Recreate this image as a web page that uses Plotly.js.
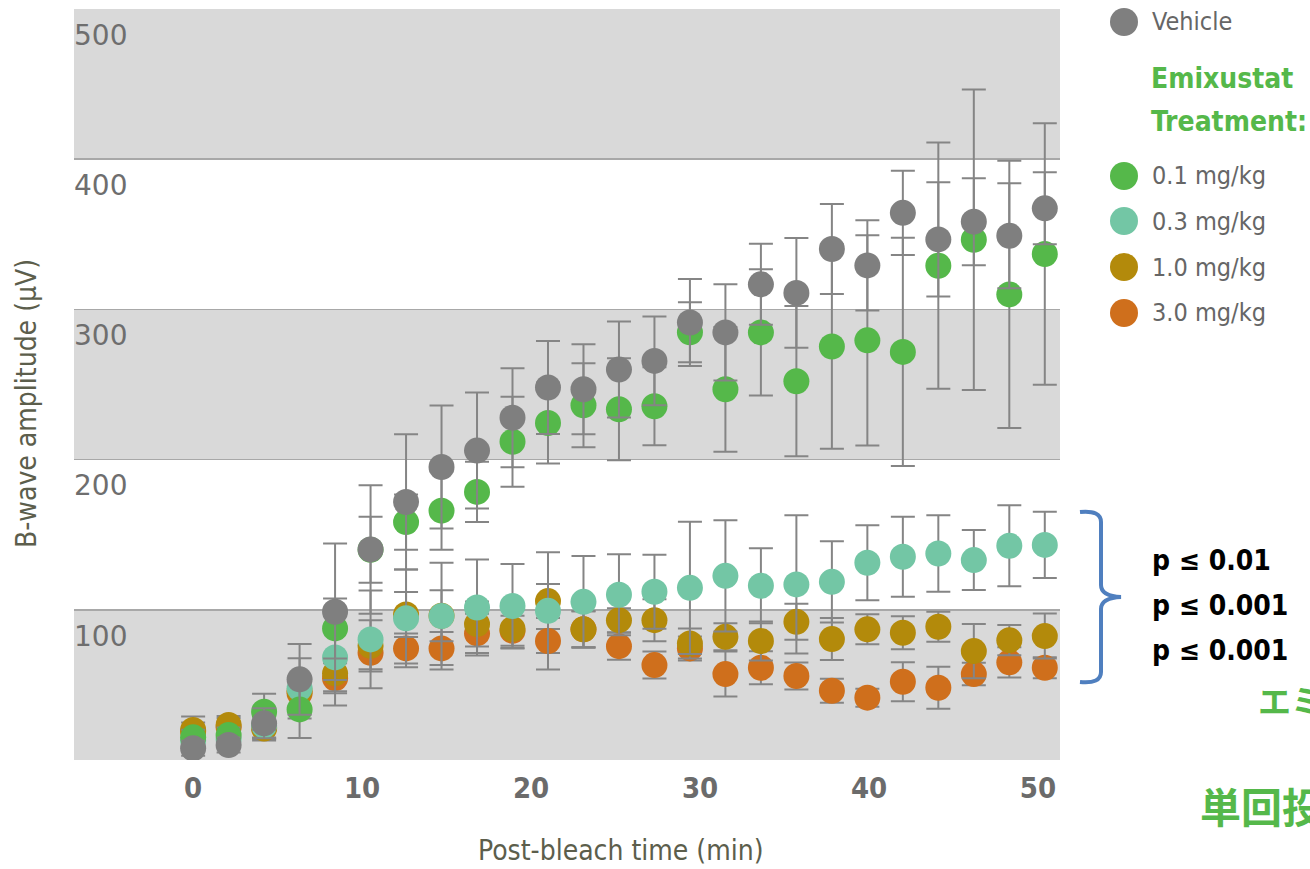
<!DOCTYPE html>
<html>
<head>
<meta charset="utf-8">
<script src="https://cdn.plot.ly/plotly-3.0.1.min.js"></script>
<style>
  html, body { margin: 0; padding: 0; background: #ffffff; }
  #chart { width: 1310px; height: 869px; }
</style>
</head>
<body>
<div id="chart"></div>
<script>
// ---- Data ----
const timeMin = [0, 2.1, 4.2, 6.3, 8.4, 10.5, 12.6, 14.7, 16.8, 18.9, 21, 23.1, 25.2, 27.3, 29.4, 31.5, 33.6, 35.7, 37.8, 39.9, 42, 44.1, 46.2, 48.3, 50.4];

const vehicle    = [7.8, 10, 24.4, 53.7, 98.7, 140.2, 171.8, 195.1, 206, 227.9, 248, 246.8, 260, 265.7, 291.3, 284.7, 316.7, 311, 340.2, 329.3, 364.3, 346.6, 358.4, 349, 367.3];
const vehicleErr = [5, 5, 10, 23.5, 45.5, 42.8, 45, 41, 38.6, 33, 31, 30, 32, 29.5, 29, 32, 27, 36.5, 30, 30, 28, 38, 29, 35, 24];

const dose01    = [15.1, 16.6, 32.1, 33.7, 87.6, 140, 158.4, 166, 178.5, 211.9, 224.4, 236.2, 233.5, 235.5, 284.8, 246.8, 284.7, 252.2, 275.3, 279.4, 271.7, 329.1, 346.4, 310, 336.9];
const dose01Err = [5, 5, 12, 19, 20, 22, 18.4, 26, 20, 30, 27, 28, 34, 26, 20, 41.5, 42, 50, 68, 70, 76, 82, 100, 89, 87];

const dose03    = [13, 14, 23, 47.7, 68.3, 80.3, 94.3, 95.8, 101.5, 102.5, 99.3, 105.3, 110, 112, 114.6, 122.6, 116, 116.9, 118.6, 131.3, 135.3, 137.5, 133.1, 142.6, 143.2];
const dose03Err = [4, 4, 8, 20, 32, 32.6, 32.6, 35.5, 32, 28, 39, 30.6, 27, 24.6, 44, 37, 25, 46, 27, 25, 26.6, 25.5, 20, 27, 22];

const dose10    = [20, 23.3, 21, 46, 57.7, 76, 96.9, 96, 90.5, 87.2, 105.8, 87, 93.1, 93.1, 77.6, 82, 79.2, 92, 80.5, 87, 84.7, 88.7, 72.5, 79.8, 82.5];
const dose10Err = [9, 6, 8, 10, 12, 17, 15, 17, 15, 13, 11.3, 12, 8, 14, 10, 9, 13, 12, 14, 10, 11, 10, 18, 10, 15];

const dose30    = [19, 22, 22, 44.4, 54.4, 71.4, 74.3, 74.3, 84.3, 86, 79.2, 87, 75.8, 63.2, 74.3, 57.2, 61.4, 55.9, 46.1, 41.5, 52.1, 48.1, 57.2, 65, 61.4];
const dose30Err = [6, 6, 8, 10, 10, 11, 10, 11, 13, 10, 8, 12, 9, 9, 8, 15, 11, 9, 8, 6, 13, 14, 7.5, 10, 7];

const xTickVals = [0, 10, 20, 30, 40, 50];
const yTickVals = [0, 100, 200, 300, 400, 500];
const yTickText = ['', '100', '200', '300', '400', '500'];

const seriesNames  = ['Vehicle', '0.1 mg/kg', '0.3 mg/kg', '1.0 mg/kg', '3.0 mg/kg'];
const seriesColors = ['#7f7f7f', '#55b84a', '#73c6a5', '#b38a0b', '#cf6f1c'];

const legendHeading = ['Emixustat', 'Treatment:'];
const pLabels = ['p \u2264 0.01', 'p \u2264 0.001', 'p \u2264 0.001'];
const jpLine1 = 'エミクススタト';
const jpLine2 = '単回投与';

// ---- Styling ----
const NARROW = "'Liberation Sans Narrow', 'Arial Narrow', 'DejaVu Sans Condensed', sans-serif";
const ERR_COLOR = '#858585';

function mk(name, y, err, color) {
  return {
    type: 'scatter', mode: 'markers', name: name,
    x: timeMin, y: y,
    marker: { size: 26, color: color, line: { width: 0 } },
    error_y: { type: 'data', array: err, visible: true, color: ERR_COLOR, thickness: 2, width: 12 },
    showlegend: false, hoverinfo: 'x+y'
  };
}

// bottom-most first, vehicle on top
const traces = [
  mk(seriesNames[4], dose30, dose30Err, seriesColors[4]),
  mk(seriesNames[3], dose10, dose10Err, seriesColors[3]),
  mk(seriesNames[2], dose03, dose03Err, seriesColors[2]),
  mk(seriesNames[1], dose01, dose01Err, seriesColors[1]),
  mk(seriesNames[0], vehicle, vehicleErr, seriesColors[0])
];

// Plot frame in pixels (for placing decorations in paper coordinates)
const L = 74, T = 9, W = 986, H = 751;
const px = v => (v - L) / W;
const py = v => (T + H - v) / H;

const shapes = [];
// gray bands
[[0, 100], [200, 300], [400, 500]].forEach(b => {
  shapes.push({ type: 'rect', xref: 'paper', yref: 'y', x0: 0, x1: 1, y0: b[0], y1: b[1],
    fillcolor: '#d9d9d9', line: { width: 0 }, layer: 'below' });
});

// custom legend markers
const legendY = [22, 176, 221, 267, 313];
legendY.forEach((yy, i) => {
  shapes.push({ type: 'circle', xref: 'paper', yref: 'paper', xsizemode: 'pixel', ysizemode: 'pixel',
    xanchor: px(1124), yanchor: py(yy), x0: -14, x1: 14, y0: -14, y1: 14,
    fillcolor: seriesColors[i], line: { width: 0 } });
});

// curly bracket
const bx0 = px(1080), bx1 = px(1101), bx2 = px(1121);
const bracketPath = `M ${bx0} ${py(512)} Q ${bx1} ${py(510)} ${bx1} ${py(522)} L ${bx1} ${py(585)} Q ${bx1} ${py(596)} ${bx2} ${py(597)} Q ${bx1} ${py(598)} ${bx1} ${py(609)} L ${bx1} ${py(672)} Q ${bx1} ${py(684)} ${bx0} ${py(682)}`;
shapes.push({ type: 'path', xref: 'paper', yref: 'paper', path: bracketPath,
  line: { color: '#4f7fbf', width: 4 }, fillcolor: 'rgba(0,0,0,0)' });

const annotations = [];
const legendText = { family: NARROW, size: 25, color: '#666666' };
annotations.push({ xref: 'paper', yref: 'paper', x: px(1150), y: py(22), xanchor: 'left', yanchor: 'middle',
  text: seriesNames[0], showarrow: false, font: legendText });
[78, 122].forEach((yy, i) => {
  annotations.push({ xref: 'paper', yref: 'paper', x: px(1149), y: py(yy), xanchor: 'left', yanchor: 'middle',
    text: '<b>' + legendHeading[i] + '</b>', showarrow: false,
    font: { family: NARROW, size: 28, color: '#55b84a' } });
});
[176, 221, 267, 313].forEach((yy, i) => {
  annotations.push({ xref: 'paper', yref: 'paper', x: px(1150), y: py(yy), xanchor: 'left', yanchor: 'middle',
    text: seriesNames[i + 1], showarrow: false, font: legendText });
});
[560, 605, 650].forEach((yy, i) => {
  annotations.push({ xref: 'paper', yref: 'paper', x: px(1150), y: py(yy), xanchor: 'left', yanchor: 'middle',
    text: '<b>' + pLabels[i] + '</b>', showarrow: false,
    font: { family: NARROW, size: 28, color: '#000000' } });
});
annotations.push({ xref: 'paper', yref: 'paper', x: px(1256), y: py(700), xanchor: 'left', yanchor: 'middle',
  text: '<b>' + jpLine1 + '</b>', showarrow: false,
  font: { family: "'Noto Sans CJK JP', sans-serif", size: 33, color: '#55b84a' } });
annotations.push({ xref: 'paper', yref: 'paper', x: px(1198), y: py(805), xanchor: 'left', yanchor: 'middle',
  text: '<b>' + jpLine2 + '</b>', showarrow: false,
  font: { family: "'Noto Sans CJK JP', sans-serif", size: 41, color: '#55b84a' } });

// axis titles
annotations.push({ xref: 'paper', yref: 'paper', x: px(621), y: py(850), xanchor: 'center', yanchor: 'middle',
  text: 'Post-bleach time (min)', showarrow: false,
  font: { family: NARROW, size: 28, color: '#5c5e4c' } });
annotations.push({ xref: 'paper', yref: 'paper', x: px(26), y: py(404), xanchor: 'center', yanchor: 'middle',
  text: 'B-wave amplitude (\u03bcV)', textangle: -90, showarrow: false,
  font: { family: NARROW, size: 28, color: '#5c5e4c' } });

const layout = {
  width: 1310, height: 869,
  margin: { l: L, r: 1310 - L - W, t: T, b: 869 - T - H, pad: 0 },
  paper_bgcolor: '#ffffff', plot_bgcolor: '#ffffff',
  showlegend: false,
  xaxis: {
    range: [-7.05, 51.3], tickvals: xTickVals, ticks: '', showgrid: false, zeroline: false,
    showline: false, ticklabelstandoff: 8,
    tickfont: { family: NARROW, size: 29, color: '#6b6b6b', weight: 'bold' }
  },
  yaxis: {
    range: [0, 500], tickvals: yTickVals, ticktext: yTickText, ticks: '',
    showgrid: true, gridcolor: '#a8a8a8', gridwidth: 1.5, zeroline: false, showline: false,
    ticklabelposition: 'inside', ticklabelshift: 26, ticklabelstandoff: -3,
    tickfont: { family: "'DejaVu Sans', sans-serif", size: 28, color: '#6e6e6e' }
  },
  shapes: shapes,
  annotations: annotations
};

Plotly.newPlot('chart', traces, layout, { displayModeBar: false, staticPlot: true });
</script>
</body>
</html>
